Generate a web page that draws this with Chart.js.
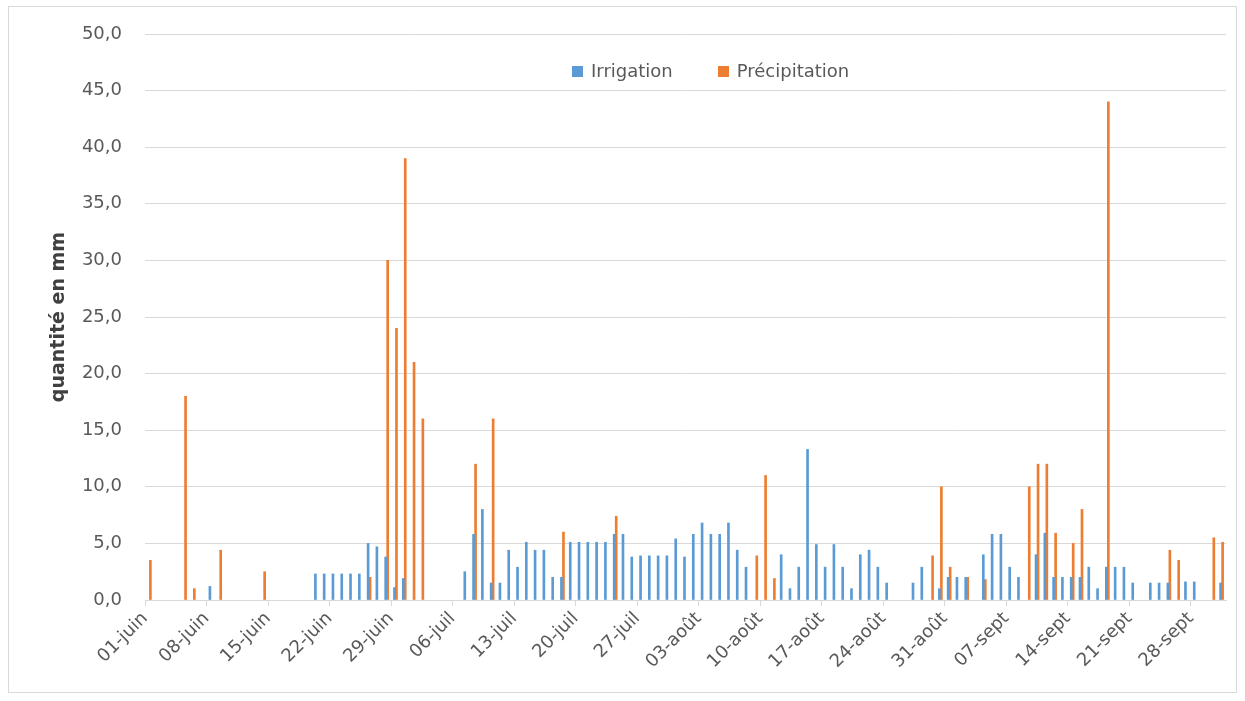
<!DOCTYPE html>
<html lang="fr">
<head>
<meta charset="utf-8">
<title>Irrigation et précipitation</title>
<script src="https://cdn.jsdelivr.net/npm/chart.js@4.4.1/dist/chart.umd.min.js"></script>
<style>
    html, body { margin: 0; padding: 0; background: #fff; }
    #wrap { position: relative; width: 1245px; height: 701px; }
    #frame {
        position: absolute; left: 8px; top: 6px; width: 1229px; height: 687px;
        box-sizing: border-box; border: 1px solid #d9d9d9; pointer-events: none;
    }
    #legend {
        position: absolute; top: 60px; left: 572px; display: flex;
        font: 18px "DejaVu Sans", sans-serif; color: #595959; line-height: 22px;
    }
    .legend-item { display: flex; align-items: center; margin-right: 45px; }
    .legend-box { width: 11px; height: 11px; margin-right: 8px; }
</style>
</head>
<body>
<div id="wrap">
    <canvas id="chart" width="1245" height="701"></canvas>
    <div id="frame"></div>
    <div id="legend"></div>
</div>
<script>
// mois couverts : nom abrégé et nombre de jours affichés
const mois = ['juin', 'juil', 'août', 'sept', 'oct'];
const joursParMois = [30, 31, 31, 30, 1];

// une valeur par jour, du 01-juin au 01-oct (mm)
const irrigation = [
    0, 0, 0, 0, 0, 0, 0,
    1.2, 0, 0, 0, 0, 0, 0,
    0, 0, 0, 0, 0, 2.3, 2.3,
    2.3, 2.3, 2.3, 2.3, 5.0, 4.7, 3.8,
    1.1, 1.9, 0, 0, 0, 0, 0,
    0, 2.5, 5.8, 8.0, 1.5, 1.5, 4.4,
    2.9, 5.1, 4.4, 4.4, 2.0, 2.0, 5.1,
    5.1, 5.1, 5.1, 5.1, 5.8, 5.8, 3.8,
    3.9, 3.9, 3.9, 3.9, 5.4, 3.8, 5.8,
    6.8, 5.8, 5.8, 6.8, 4.4, 2.9, 0,
    0, 0, 4.0, 1.0, 2.9, 13.3, 4.9,
    2.9, 4.9, 2.9, 1.0, 4.0, 4.4, 2.9,
    1.5, 0, 0, 1.5, 2.9, 0, 1.0,
    2.0, 2.0, 2.0, 0, 4.0, 5.8, 5.8,
    2.9, 2.0, 0, 4.0, 5.9, 2.0, 2.0,
    2.0, 2.0, 2.9, 1.0, 2.9, 2.9, 2.9,
    1.5, 0, 1.5, 1.5, 1.5, 0, 1.6,
    1.6, 0, 0, 1.5
];
const precipitation = [
    3.5, 0, 0, 0, 18, 1.0, 0,
    0, 4.4, 0, 0, 0, 0, 2.5,
    0, 0, 0, 0, 0, 0, 0,
    0, 0, 0, 0, 2.0, 0, 30,
    24, 39, 21, 16, 0, 0, 0,
    0, 0, 12, 0, 16, 0, 0,
    0, 0, 0, 0, 0, 6.0, 0,
    0, 0, 0, 0, 7.4, 0, 0,
    0, 0, 0, 0, 0, 0, 0,
    0, 0, 0, 0, 0, 0, 3.9,
    11, 1.9, 0, 0, 0, 0, 0,
    0, 0, 0, 0, 0, 0, 0,
    0, 0, 0, 0, 0, 3.9, 10,
    2.9, 0, 2.0, 0, 1.8, 0, 0,
    0, 0, 10, 12, 12, 5.9, 0,
    5.0, 8.0, 0, 0, 44, 0, 0,
    0, 0, 0, 0, 4.4, 3.5, 0,
    0, 0, 5.5, 5.1
];

const seriesNames = ['Irrigation', 'Précipitation'];
const seriesColors = ['#5b9bd5', '#ed7d31'];
const yTicks = [0, 5, 10, 15, 20, 25, 30, 35, 40, 45, 50];
const tickEvery = 7;

// libellés jour par jour : 01-juin, 02-juin, ...
const jours = [];
mois.forEach((m, i) => {
    for (let j = 1; j <= joursParMois[i]; j++) {
        jours.push(String(j).padStart(2, '0') + '-' + m);
    }
});

// les jours sans apport ne dessinent rien
const sansZero = arr => arr.map(v => (v === 0 ? null : v));

Chart.defaults.font.family = '"DejaVu Sans", sans-serif';
Chart.defaults.color = '#595959';

const ctx = document.getElementById('chart').getContext('2d');
const chart = new Chart(ctx, {
    type: 'bar',
    data: {
        labels: jours,
        datasets: [
            {
                label: seriesNames[0],
                data: sansZero(irrigation),
                backgroundColor: seriesColors[0],
                barThickness: 2
            },
            {
                label: seriesNames[1],
                data: sansZero(precipitation),
                backgroundColor: seriesColors[1],
                barThickness: 2
            }
        ]
    },
    options: {
        responsive: false,
        animation: false,
        layout: {
            padding: { top: 34, right: 19, bottom: 0, left: 0 }
        },
        plugins: {
            legend: { display: false },
            tooltip: { enabled: true }
        },
        scales: {
            x: {
                offset: true,
                grid: {
                    display: true,
                    offset: true,
                    drawOnChartArea: false,
                    drawTicks: true,
                    tickLength: 6,
                    color: c => (c.index % tickEvery === 0 ? '#d9d9d9' : 'rgba(0,0,0,0)')
                },
                border: { display: true, color: '#d9d9d9' },
                ticks: {
                    autoSkip: false,
                    minRotation: 45,
                    maxRotation: 45,
                    labelOffset: -4.4,
                    padding: 2,
                    font: { size: 18 },
                    color: '#595959',
                    callback: function (value, index) {
                        return index % tickEvery === 0 ? this.getLabelForValue(value) : '';
                    }
                },
                afterFit: scale => { scale.height = 101; }
            },
            y: {
                min: yTicks[0],
                max: yTicks[yTicks.length - 1],
                afterBuildTicks: scale => {
                    scale.ticks = yTicks.map(v => ({ value: v }));
                },
                grid: { color: '#d9d9d9', drawTicks: false },
                border: { display: false },
                ticks: {
                    padding: 23,
                    font: { size: 18 },
                    color: '#595959',
                    callback: v => v.toFixed(1).replace('.', ',')
                },
                title: {
                    display: true,
                    text: 'quantité en mm',
                    color: '#404040',
                    font: { size: 19, weight: 'bold' },
                    padding: { top: 48, bottom: 0 }
                },
                afterFit: scale => { scale.width = 145; }
            }
        }
    }
});

// légende HTML
const legend = document.getElementById('legend');
chart.data.datasets.forEach(ds => {
    const item = document.createElement('div');
    item.className = 'legend-item';
    const box = document.createElement('span');
    box.className = 'legend-box';
    box.style.background = ds.backgroundColor;
    const txt = document.createElement('span');
    txt.textContent = ds.label;
    item.appendChild(box);
    item.appendChild(txt);
    legend.appendChild(item);
});
</script>
</body>
</html>
